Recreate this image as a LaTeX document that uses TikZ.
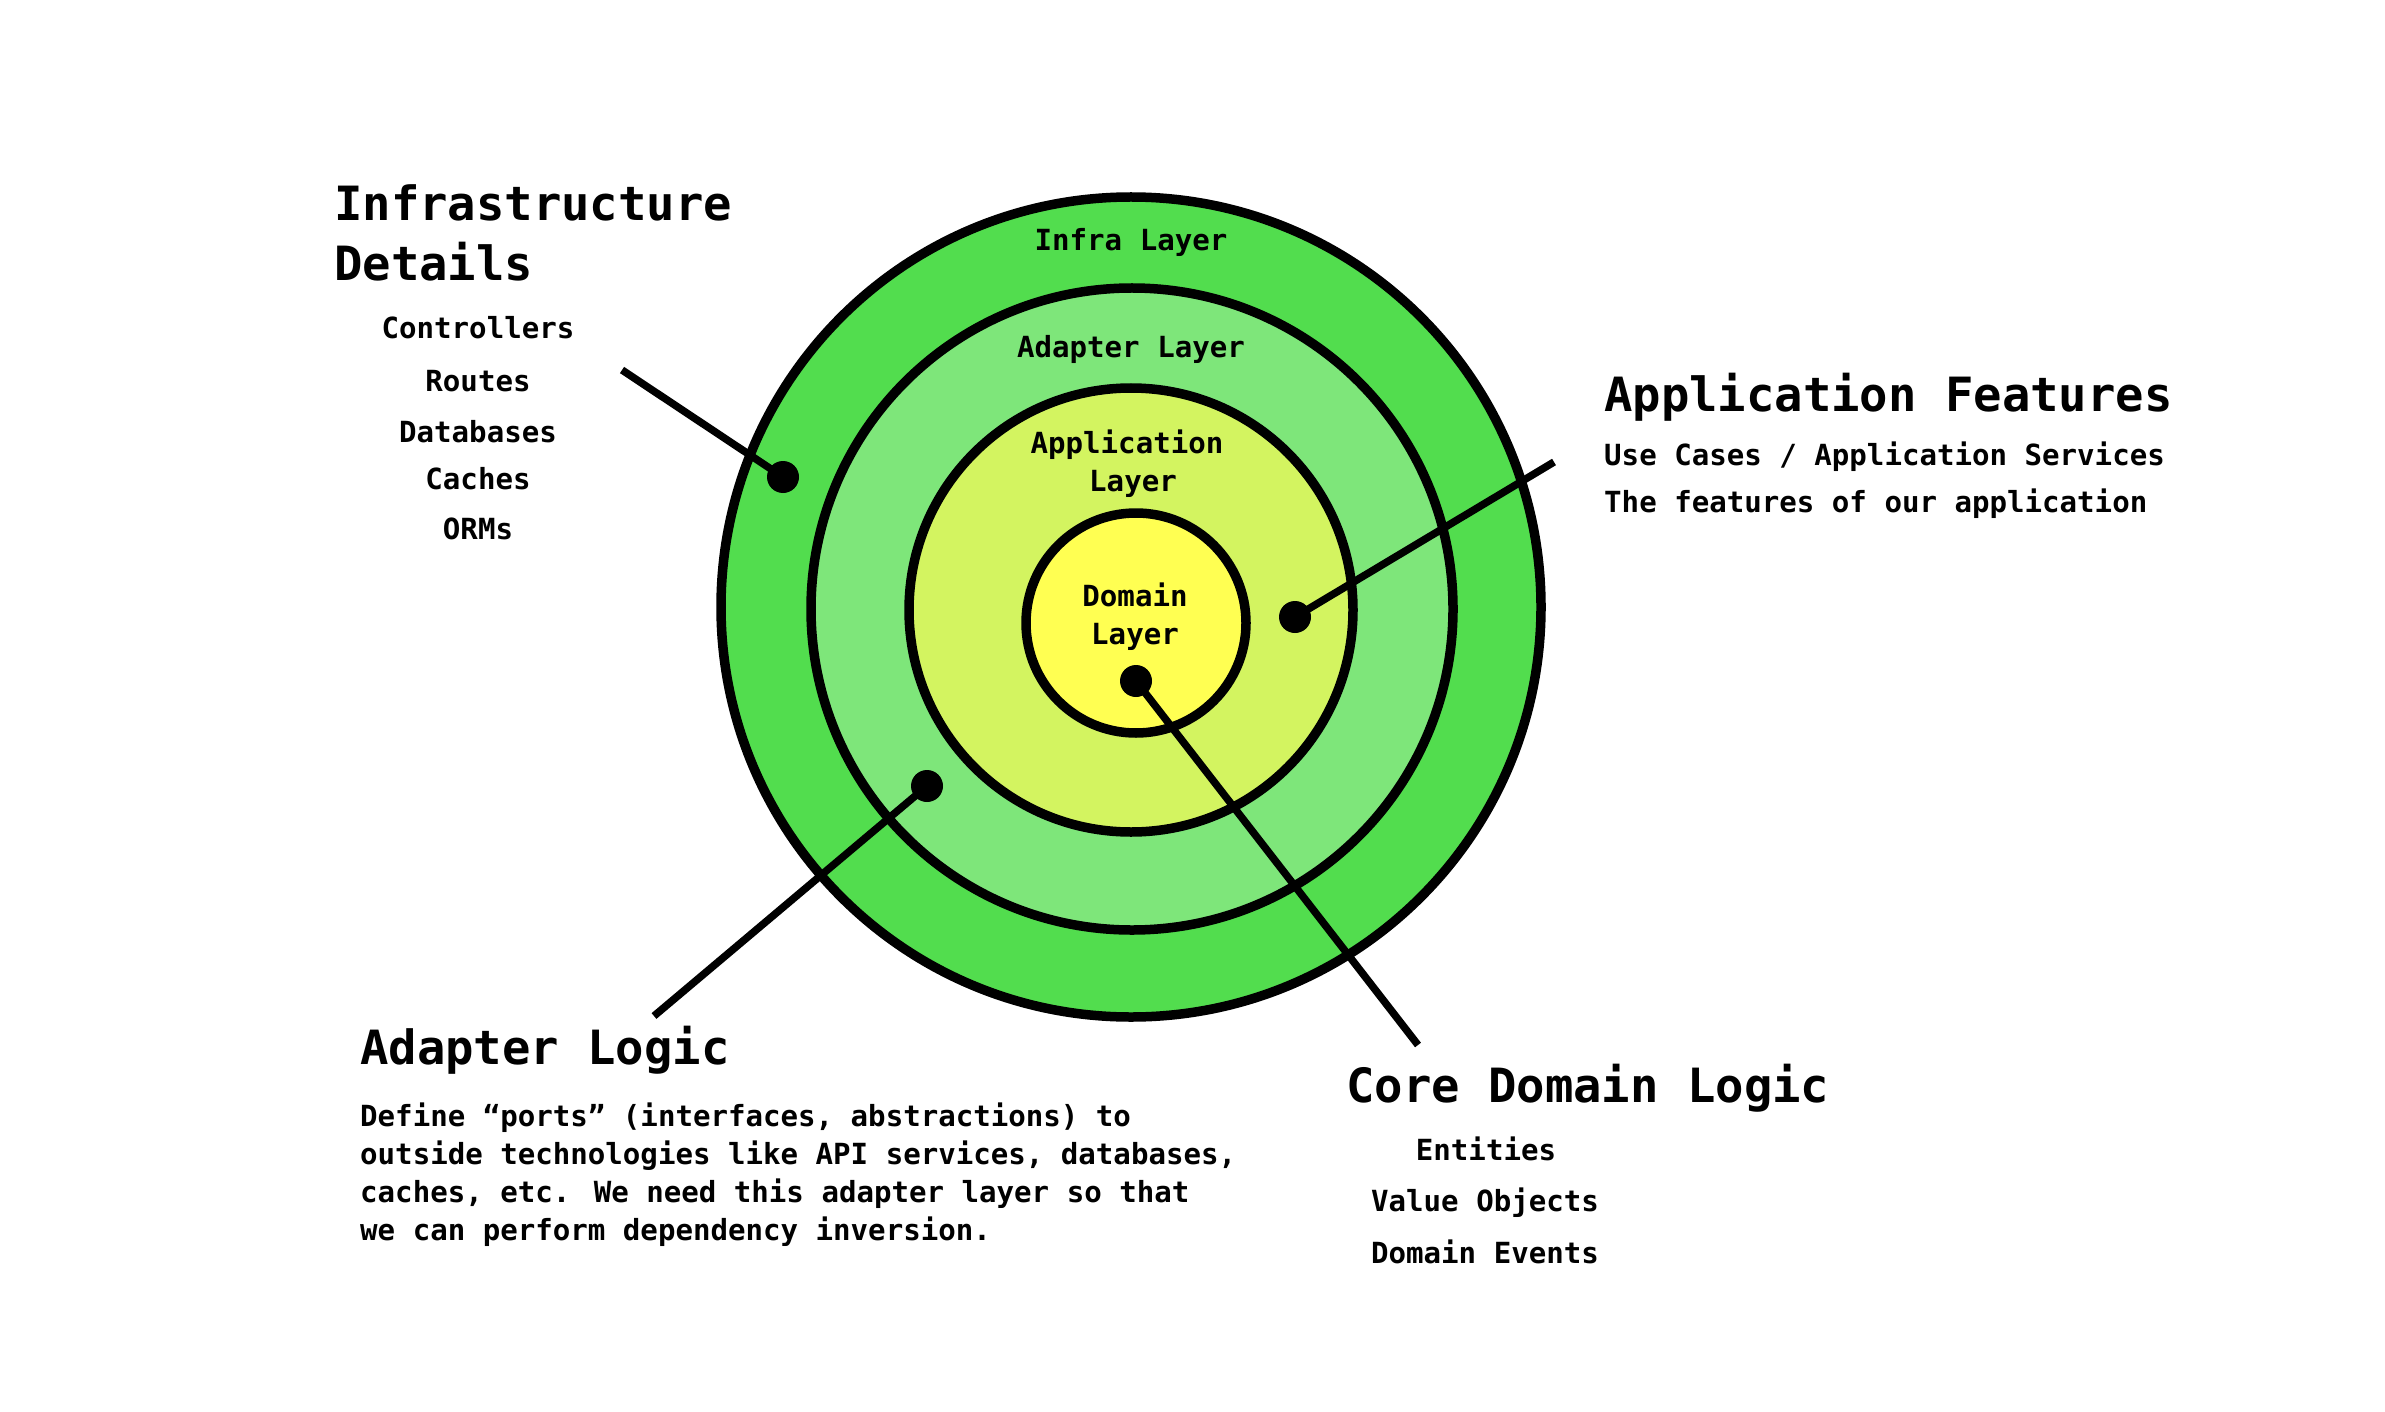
\documentclass[tikz,border=0pt]{standalone}
\usepackage{fontspec}
\setmainfont{DejaVu Sans Mono}
\definecolor{infracol}{RGB}{82,221,78}
\definecolor{adaptcol}{RGB}{126,230,122}
\definecolor{appcol}{RGB}{211,244,96}
\definecolor{domcol}{RGB}{255,255,82}
\tikzset{
  ring/.style={circle, draw=black, line width=9.5bp, inner sep=0},
  lead/.style={line width=7.5bp, draw=black},
  blob/.style={circle, fill=black, inner sep=0, minimum size=32bp},
  headtxt/.style={font=\fontsize{47.2bp}{56bp}\selectfont\bfseries, inner sep=0},
  smalltxt/.style={font=\fontsize{29.1bp}{38bp}\selectfont\bfseries, inner sep=0},
}
\begin{document}
\begin{tikzpicture}[x=1bp,y=-1bp]
\fill[white] (0,0) rectangle (2385,1412);
\useasboundingbox (0,0) rectangle (2385,1412);

% rings
\node[ring, fill=infracol, minimum size=820bp] (infra) at (1131,607) {};
\node[ring, fill=adaptcol, minimum size=642bp] (adapt) at (1132,609) {};
\node[ring, fill=appcol, minimum size=444bp] (app) at (1131,610) {};
\node[ring, fill=domcol, minimum size=220bp] (dom) at (1136,623) {};

% ring labels
\node[smalltxt, anchor=base] (linfra) at (1131,251) {Infra Layer};
\node[smalltxt, anchor=base] (ladapt) at (1131,357) {Adapter Layer};
\node[smalltxt, anchor=base] (lapp1) at (1127,453) {Application};
\node[smalltxt, anchor=base] (lapp2) at (1133,491) {Layer};
\node[smalltxt, anchor=base] (ldom1) at (1135,606) {Domain};
\node[smalltxt, anchor=base] (ldom2) at (1135,644) {Layer};

% dots and connectors
\node[blob] (dinfra) at (783,477) {};
\node[blob] (dapp) at (1295,617) {};
\node[blob] (dadapt) at (927,786) {};
\node[blob] (ddom) at (1136,681) {};
\coordinate (einfra) at (622,370);
\coordinate (eapp) at (1554,462);
\coordinate (eadapt) at (654,1016);
\coordinate (edom) at (1418,1045);
\draw[lead] (einfra) -- (dinfra.center);
\draw[lead] (dapp.center) -- (eapp);
\draw[lead] (dadapt.center) -- (eadapt);
\draw[lead] (ddom.center) -- (edom);

% Infrastructure details
\node[headtxt, anchor=base west] (hinfra1) at (334,221) {Infrastructure};
\node[headtxt, anchor=base west] (hinfra2) at (334,281) {Details};
\node[smalltxt, anchor=base] (i1) at (478,338) {Controllers};
\node[smalltxt, anchor=base] (i2) at (478,391) {Routes};
\node[smalltxt, anchor=base] (i3) at (478,442) {Databases};
\node[smalltxt, anchor=base] (i4) at (478,489) {Caches};
\node[smalltxt, anchor=base] (i5) at (478,539) {ORMs};

% Application features
\node[headtxt, anchor=base west] (happ) at (1604,411) {Application Features};
\node[smalltxt, anchor=base west] (a1) at (1604,465) {Use Cases / Application Services};
\node[smalltxt, anchor=base west] (a2) at (1604,512) {The features of our application};

% Adapter logic
\node[headtxt, anchor=base west] (hadapt) at (360,1064) {Adapter Logic};
\node[smalltxt, anchor=base west] (p1) at (360,1126) {Define “ports” (interfaces, abstractions) to};
\node[smalltxt, anchor=base west] (p2) at (360,1164) {outside technologies like API services, databases,};
\node[smalltxt, anchor=base west] (p3) at (360,1202) {caches, etc. We need this adapter layer so that};
\node[smalltxt, anchor=base west] (p4) at (360,1240) {we can perform dependency inversion.};

% Core domain logic
\node[headtxt, anchor=base west] (hdom) at (1346,1102) {Core Domain Logic};
\node[smalltxt, anchor=base] (c1) at (1486,1160) {Entities};
\node[smalltxt, anchor=base] (c2) at (1485,1211) {Value Objects};
\node[smalltxt, anchor=base] (c3) at (1485,1263) {Domain Events};
\end{tikzpicture}
\end{document}
